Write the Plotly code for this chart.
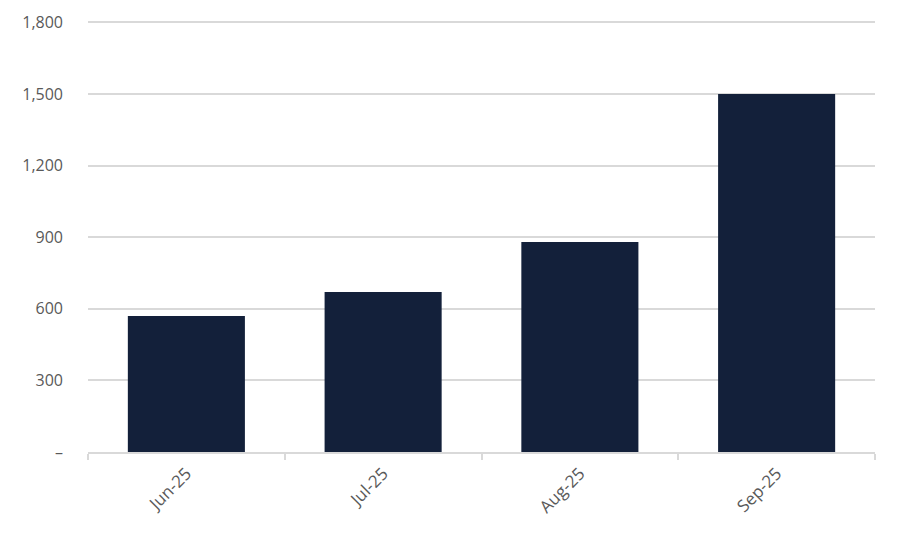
import plotly.graph_objects as go

# 데이터
months = ["Jun-25", "Jul-25", "Aug-25", "Sep-25"]
values = [570, 670, 880, 1500]
y_ticks = [0, 300, 600, 900, 1200, 1500, 1800]
y_labels = ["–", "300", "600", "900", "1,200", "1,500", "1,800"]

fig = go.Figure(go.Bar(x=months, y=values, marker_color="#13203A", marker_line_width=0))

# 페이지 body 여백(8px)을 고려한 마진
fig.update_layout(
    width=898, height=542,
    margin=dict(l=80, r=31, t=13, b=98),
    plot_bgcolor="white", paper_bgcolor="white",
    bargap=0.405,
    showlegend=False,
    font=dict(family="Open Sans, Noto Sans, sans-serif", size=16, color="#595959"),
)

fig.update_xaxes(
    showline=True, linecolor="#D9D9D9", linewidth=2,
    ticks="outside", tickson="boundaries", tickcolor="#D9D9D9", ticklen=6, tickwidth=2,
    tickangle=-45, showgrid=False, automargin=False,
    tickfont=dict(size=17), ticklabelstandoff=3,
)
# 상단 1,800 그리드선이 잘리지 않도록 범위를 약간 여유 있게
fig.update_yaxes(
    range=[0, 1806], tickvals=y_ticks, ticktext=y_labels,
    showgrid=True, gridcolor="#D9D9D9", gridwidth=1.5,
    zeroline=False, ticks="", ticklabelstandoff=24, automargin=False,
)

fig.write_html("out.html")
